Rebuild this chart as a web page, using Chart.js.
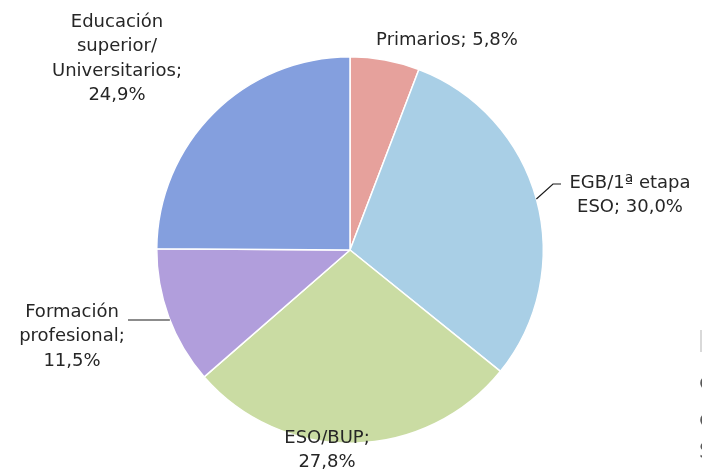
<!DOCTYPE html>
<html>
<head>
<meta charset="utf-8">
<script src="https://cdn.jsdelivr.net/npm/chart.js@4/dist/chart.umd.min.js"></script>
<style>
  html, body { margin: 0; padding: 0; background: #ffffff; }
  #wrap { position: relative; width: 702px; height: 469px; }
</style>
</head>
<body>
<div id="wrap"><canvas id="chart-pie"></canvas></div>
<script>
const categories = ['Primarios', 'EGB/1ª etapa ESO', 'ESO/BUP', 'Formación profesional', 'Educación superior/ Universitarios'];
const shares = [5.8, 30.0, 27.8, 11.5, 24.9];
const colors = ['#e6a19c', '#a9cfe6', '#cadca3', '#b19edc', '#849fde'];

// label text lines per slice, plus where they sit on the page
const labelLines = [
  ['Primarios; 5,8%'],
  ['EGB/1ª etapa', 'ESO; 30,0%'],
  ['ESO/BUP;', '27,8%'],
  ['Formación', 'profesional;', '11,5%'],
  ['Educación', 'superior/', 'Universitarios;', '24,9%'],
];
const labelPos = [
  { x: 447, y: 40 },
  { x: 630, y: 183 },
  { x: 327, y: 438 },
  { x: 72,  y: 312 },
  { x: 117, y: 22 },
];
// leader lines: slice index -> y where it meets the pie edge, then points toward the text
const leaders = {
  1: { edgeY: 199, side: 1,  pts: [{ x: 553, y: 184 }, { x: 561, y: 184 }] },
  3: { edgeY: 320, side: -1, pts: [{ x: 128, y: 320 }] },
};

const FONT = '18px "DejaVu Sans", sans-serif';
const LINE_H = 24.5;

const labelPlugin = {
  id: 'sliceLabels',
  afterDatasetsDraw(chart) {
    const ctx = chart.ctx;
    const arcs = chart.getDatasetMeta(0).data;
    ctx.save();

    // leader lines from the slice edge
    ctx.strokeStyle = '#1a1a1a';
    ctx.lineWidth = 1.2;
    Object.keys(leaders).forEach(k => {
      const a = arcs[k];
      const L = leaders[k];
      const dy = L.edgeY - a.y;
      const ex = a.x + L.side * Math.sqrt(a.outerRadius * a.outerRadius - dy * dy);
      ctx.beginPath();
      ctx.moveTo(ex, L.edgeY);
      L.pts.forEach(p => ctx.lineTo(p.x, p.y));
      ctx.stroke();
    });

    ctx.fillStyle = '#262626';
    ctx.font = FONT;
    ctx.textAlign = 'center';
    ctx.textBaseline = 'middle';
    labelLines.forEach((lines, i) => {
      lines.forEach((t, j) => ctx.fillText(t, labelPos[i].x, labelPos[i].y + j * LINE_H));
    });

    // cut-off text box at the right edge of the picture
    ctx.fillStyle = '#595959';
    ctx.font = '22px "DejaVu Sans", sans-serif';
    ctx.textAlign = 'left';
    ['c', 'c', 'S'].forEach((t, j) => ctx.fillText(t, 699, [383, 420, 452][j]));
    ctx.fillStyle = '#d9d9d9';
    ctx.fillRect(700, 330, 2, 22);
    ctx.restore();
  }
};

new Chart(document.getElementById('chart-pie'), {
  type: 'pie',
  data: {
    labels: categories,
    datasets: [{
      data: shares,
      backgroundColor: colors,
      borderColor: '#ffffff',
      borderWidth: 1.5,
    }]
  },
  options: {
    responsive: true,
    maintainAspectRatio: false,
    animation: false,
    layout: { padding: { top: 56, bottom: 25, left: 0, right: 2 } },
    plugins: {
      legend: { display: false },
      tooltip: { enabled: false },
    },
  },
  plugins: [labelPlugin],
});
</script>
</body>
</html>
